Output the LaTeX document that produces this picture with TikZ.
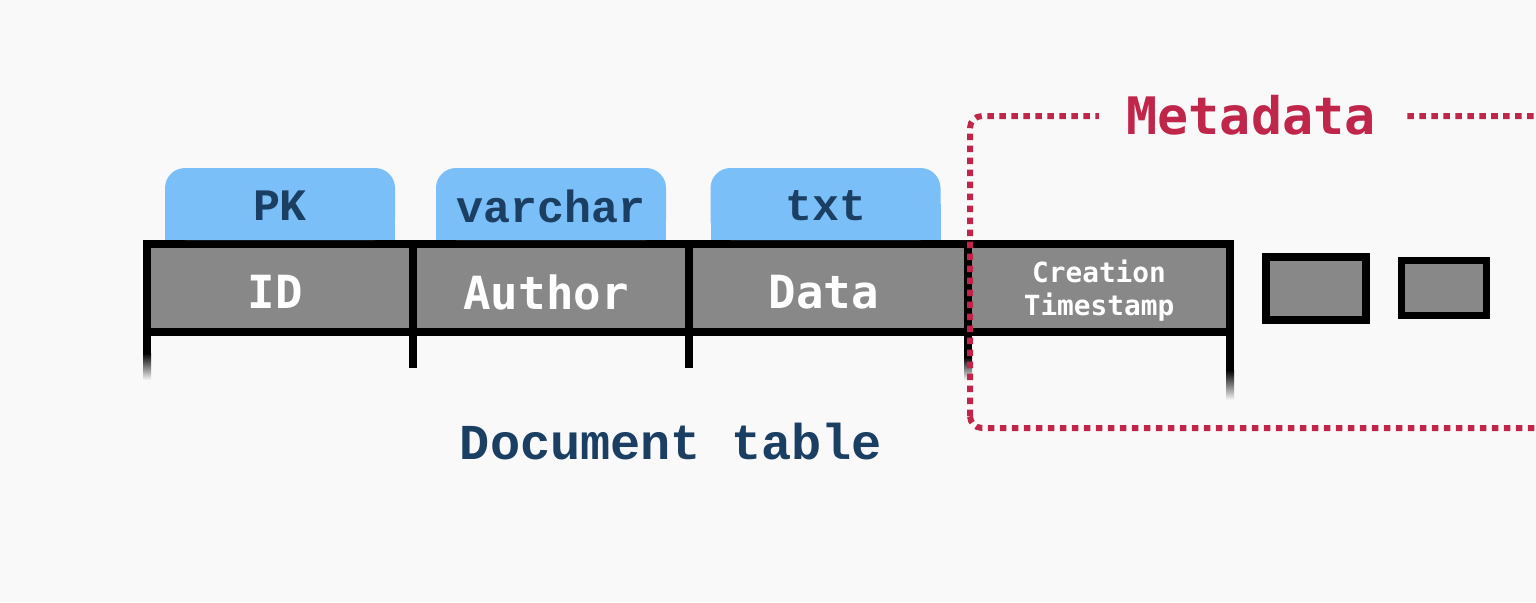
\documentclass[tikz,border=0pt]{standalone}
\usepackage{fontspec}
\usepackage{xcolor}
\usepackage{tikz}
\usetikzlibrary{positioning}
\newfontfamily\cellfont{DejaVu Sans Mono}
\newfontfamily\typefont{Liberation Mono}
\definecolor{bgcol}{HTML}{F9F9FA}
\definecolor{cellgray}{HTML}{888888}
\definecolor{tabblue}{HTML}{7BBFF9}
\definecolor{navy}{HTML}{1B3F63}
\definecolor{metared}{HTML}{C0254A}
\newcommand{\celltext}[1]{\raisebox{-0.04cm}[\height][\depth]{\kern-0.1cm#1}}

\begin{document}
\begin{tikzpicture}[
  cell/.style={draw=black, line width=0.08cm, fill=cellgray, inner sep=0pt, outer sep=0pt, minimum height=0.88cm, text=white, align=center, font=\cellfont\bfseries\fontsize{13}{15}\selectfont},
  small/.style={font=\cellfont\bfseries\fontsize{7.9}{9.4}\selectfont},
  tab/.style={fill=tabblue, rounded corners=0.2cm, inner sep=0pt, outer sep=0pt, minimum width=2.3cm, minimum height=0.72cm},
  tablabel/.style={text=navy, font=\typefont\bfseries\fontsize{12.8}{14}\selectfont},
  leg/.style={line width=0.08cm},
  fadeleg/.style={top color=black, bottom color=bgcol},
  spare/.style={draw=black, fill=cellgray, inner sep=0pt, outer sep=0pt},
  metabox/.style={draw=metared, line width=0.06cm, dash pattern=on 0.065cm off 0.055cm, rounded corners=0.12cm},
  caption/.style={text=navy, font=\typefont\bfseries\fontsize{14.3}{16}\selectfont}]

\useasboundingbox (0,0) rectangle (15.36,6.02);
\clip (0,0) rectangle (15.36,6.02);
\fill[bgcol] (0,0) rectangle (15.36,6.02);

\node[cell, minimum width=2.66cm] (id) at (2.80,3.14) {\celltext{ID}};
\node[cell, minimum width=2.76cm, right=0pt of id] (author) {\celltext{Author}};
\node[cell, minimum width=2.79cm, right=0pt of author] (data) {\celltext{Data}};
\node[cell, minimum width=2.62cm, right=0pt of data, small] (ctime) {\raisebox{-0.03cm}[\height][\depth]{Creation}\\\raisebox{-0.03cm}[\height][\depth]{Timestamp}};

\node[tab, above=0.04cm of id] (pk) {};
\node[tab, above=0.04cm of author] (vc) {};
\node[tab, above=0.04cm of data, xshift=-0.03cm] (txt) {};
\foreach \t/\s in {pk/PK,vc/varchar,txt/txt}{
  \fill[tabblue] (\t.west) rectangle (\t.south east);
  \node[tablabel] at ([yshift=-0.02cm]\t.center) {\s};
}

\draw[leg] (id.south west) -- ++(0,-0.21);
\shade[fadeleg] ([xshift=-0.04cm,yshift=-0.21cm]id.south west) rectangle ([xshift=0.04cm,yshift=-0.48cm]id.south west);
\draw[leg] (id.south east) -- ++(0,-0.36);
\draw[leg] (author.south east) -- ++(0,-0.36);
\draw[leg] (data.south east) -- ++(0,-0.25);
\shade[fadeleg] ([xshift=-0.04cm,yshift=-0.25cm]data.south east) rectangle ([xshift=0.04cm,yshift=-0.48cm]data.south east);
\draw[leg] (ctime.south east) -- ++(0,-0.38);
\shade[fadeleg] ([xshift=-0.04cm,yshift=-0.38cm]ctime.south east) rectangle ([xshift=0.04cm,yshift=-0.68cm]ctime.south east);

\node[spare, line width=0.08cm, minimum width=1cm, minimum height=0.63cm, right=0.36cm of ctime] (more) {};
\node[spare, line width=0.07cm, minimum width=0.85cm, minimum height=0.55cm, right=0.355cm of more] (most) {};

\draw[metabox] (9.70,1.74) rectangle (15.6,4.86);
\node[fill=bgcol, inner xsep=0.28cm, inner ysep=0.1cm, text=metared, font=\cellfont\bfseries\fontsize{14.7}{16}\selectfont] (meta) at (12.51,4.87) {Metadata};

\node[caption] (doc) at (6.71,1.60) {Document table};
\end{tikzpicture}
\end{document}
